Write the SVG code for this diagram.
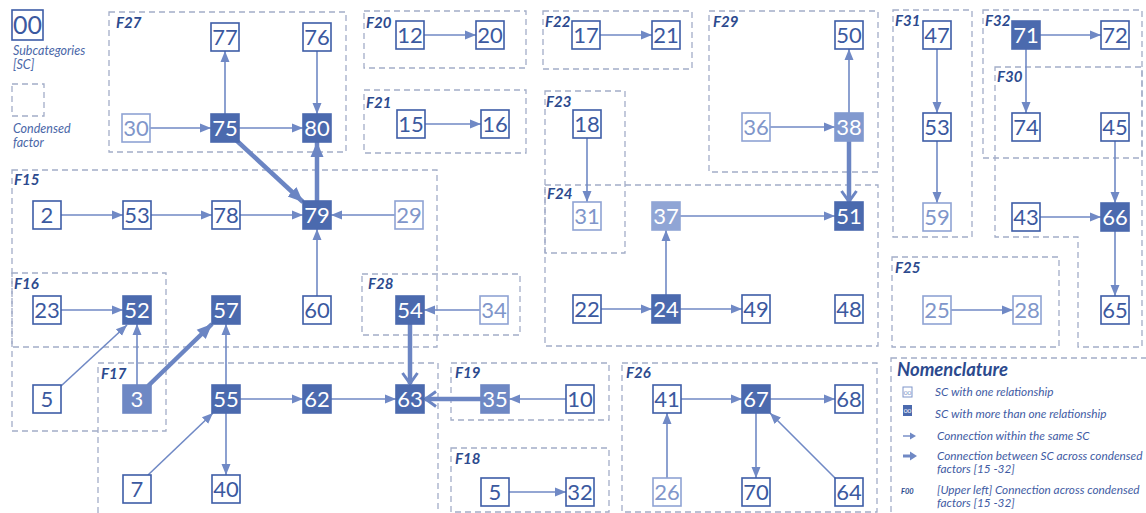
<svg xmlns="http://www.w3.org/2000/svg" width="1146" height="513" viewBox="0 0 1146 513">
  <style>
    .bg { fill: #ffffff; }
    .cf { fill: none; stroke: #a3adc8; stroke-width: 1.3; stroke-dasharray: 6 4; }
    .flab { font-family: Lato, "Liberation Sans", sans-serif; font-weight: bold; font-style: italic; font-size: 15px; fill: #2c4a8e; }
    .nb { fill: #ffffff; stroke: #3e5da7; stroke-width: 1.6; }
    .nt { font-family: Lato, "Liberation Sans", sans-serif; font-size: 22px; fill: #3b599f; text-anchor: middle; }
    .lt .nb { stroke: #8fa3d4; }
    .lt .nt { fill: #8096ca; }
    .dk .nb { fill: #4b6aae; stroke: #4b6aae; }
    .dk .nt { fill: #ffffff; }
    .md .nb { fill: #6e88c4; stroke: #6e88c4; }
    .md .nt { fill: #ffffff; }
    .ml .nb { fill: #8199cf; stroke: #8199cf; }
    .ml .nt { fill: #ffffff; }
    .mll .nb { fill: #90a5d5; stroke: #90a5d5; }
    .mll .nt { fill: #ffffff; }
    .c { fill: none; stroke: #7089c5; stroke-width: 1.6; marker-end: url(#tri); }
    .ct { fill: none; stroke: #6b85c3; stroke-width: 4.5; marker-end: url(#ttri); }
    .cv { fill: none; stroke: #6b85c3; stroke-width: 4.5; marker-end: url(#chev); }
    .leg { font-family: Lato, "Liberation Sans", sans-serif; font-style: italic; font-size: 12.5px; fill: #4a67a8; }
    .nom { font-family: Lato, "Liberation Sans", sans-serif; font-style: italic; font-size: 11.8px; fill: #3f5ca4; }
  </style>
  <defs>
    <marker id="tri" markerUnits="userSpaceOnUse" markerWidth="12" markerHeight="12" viewBox="0 0 12 12" refX="11" refY="6" orient="auto">
      <path d="M0,1.5 L11,6 L0,10.5 Z" fill="#7089c5"/>
    </marker>
    <marker id="ttri" markerUnits="userSpaceOnUse" markerWidth="16" markerHeight="16" viewBox="0 0 16 16" refX="15" refY="8" orient="auto">
      <path d="M0,1.5 L15,8 L0,14.5 Z" fill="#6b85c3"/>
    </marker>
    <marker id="chev" markerUnits="userSpaceOnUse" markerWidth="16" markerHeight="18" viewBox="0 0 16 18" refX="14" refY="9" orient="auto">
      <path d="M3,1.5 L13.5,9 L3,16.5" fill="none" stroke="#6b85c3" stroke-width="3"/>
    </marker>
  </defs>

  <rect class="bg" x="0" y="0" width="1146" height="513"/>

  <!-- key: subcategory box and condensed factor frame -->
  <g id="key">
    <rect x="12" y="10" width="31" height="30" fill="#ffffff" stroke="#3e5da7" stroke-width="1.6"/>
    <text x="27.5" y="34" font-family="Lato, 'Liberation Sans', sans-serif" font-size="25" fill="#3b599f" text-anchor="middle">00</text>
    <text class="leg" x="13" y="55">Subcategories</text>
    <text class="leg" x="13" y="69">[SC]</text>
    <rect class="cf" x="12" y="84" width="32" height="32"/>
    <text class="leg" x="13" y="133">Condensed</text>
    <text class="leg" x="13" y="147">factor</text>
  </g>

  <!-- condensed factor frames -->
  <g id="factors">
    <rect class="cf" x="109" y="12" width="237" height="140"/>
    <text class="flab" x="116" y="28">F27</text>
    <rect class="cf" x="364" y="11" width="162" height="57"/>
    <text class="flab" x="366" y="28">F20</text>
    <rect class="cf" x="364" y="90" width="162" height="63"/>
    <text class="flab" x="366" y="108">F21</text>
    <rect class="cf" x="543" y="11" width="149" height="58"/>
    <text class="flab" x="545" y="27">F22</text>
    <rect class="cf" x="545" y="91" width="80" height="162"/>
    <text class="flab" x="546" y="107">F23</text>
    <rect class="cf" x="709" y="11" width="169" height="161"/>
    <text class="flab" x="713" y="27">F29</text>
    <rect class="cf" x="893" y="10" width="79" height="227"/>
    <text class="flab" x="895" y="26">F31</text>
    <rect class="cf" x="983" y="10" width="159" height="148"/>
    <text class="flab" x="985" y="26">F32</text>
    <path class="cf" d="M995,67 H1142 V347 H1078 V237 H995 Z"/>
    <text class="flab" x="997" y="82">F30</text>
    <rect class="cf" x="12" y="170" width="425" height="177"/>
    <text class="flab" x="14" y="185">F15</text>
    <rect class="cf" x="545" y="185" width="333" height="161"/>
    <text class="flab" x="547" y="199">F24</text>
    <rect class="cf" x="12" y="273" width="154" height="158"/>
    <text class="flab" x="14" y="289">F16</text>
    <rect class="cf" x="362" y="274" width="158" height="61"/>
    <text class="flab" x="368" y="289">F28</text>
    <rect class="cf" x="892" y="257" width="167" height="90"/>
    <text class="flab" x="895" y="273">F25</text>
    <rect class="cf" x="98" y="363" width="340" height="155"/>
    <text class="flab" x="101" y="379">F17</text>
    <rect class="cf" x="451" y="363" width="158" height="57"/>
    <text class="flab" x="455" y="378">F19</text>
    <rect class="cf" x="451" y="448" width="158" height="64"/>
    <text class="flab" x="455" y="464">F18</text>
    <rect class="cf" x="622" y="363" width="255" height="149"/>
    <text class="flab" x="626" y="378">F26</text>
  </g>

  <!-- connectors -->
  <g id="connectors">
    <!-- F27 -->
    <line class="c" x1="225" y1="114" x2="225" y2="51"/>
    <line class="c" x1="317" y1="51" x2="317" y2="114"/>
    <line class="c" x1="150" y1="128" x2="211" y2="128"/>
    <line class="c" x1="239" y1="128" x2="303" y2="128"/>
    <line class="ct" x1="236" y1="140" x2="303" y2="202"/>
    <line class="ct" x1="317" y1="201" x2="317" y2="142"/>
    <!-- F20, F21, F22, F23 -->
    <line class="c" x1="424" y1="35" x2="476" y2="35"/>
    <line class="c" x1="425" y1="124" x2="481" y2="124"/>
    <line class="c" x1="600" y1="35" x2="652" y2="35"/>
    <line class="c" x1="587" y1="138" x2="587" y2="202"/>
    <!-- F29 -->
    <line class="c" x1="770" y1="127" x2="835" y2="127"/>
    <line class="c" x1="849" y1="113" x2="849" y2="49"/>
    <line class="cv" x1="849" y1="141" x2="849" y2="202"/>
    <!-- F24 -->
    <line class="c" x1="680" y1="216" x2="835" y2="216"/>
    <line class="c" x1="666" y1="295" x2="666" y2="230"/>
    <line class="c" x1="601" y1="309" x2="652" y2="309"/>
    <line class="c" x1="680" y1="309" x2="742" y2="309"/>
    <!-- F31 -->
    <line class="c" x1="937" y1="49" x2="937" y2="113"/>
    <line class="c" x1="937" y1="141" x2="937" y2="203"/>
    <!-- F32, F30 -->
    <line class="c" x1="1040" y1="35" x2="1101" y2="35"/>
    <line class="c" x1="1026" y1="49" x2="1026" y2="113"/>
    <line class="c" x1="1115" y1="141" x2="1115" y2="203"/>
    <line class="c" x1="1040" y1="217" x2="1101" y2="217"/>
    <line class="c" x1="1115" y1="231" x2="1115" y2="296"/>
    <!-- F25 -->
    <line class="c" x1="951" y1="310" x2="1013" y2="310"/>
    <!-- F15 -->
    <line class="c" x1="61" y1="215" x2="123" y2="215"/>
    <line class="c" x1="151" y1="215" x2="212" y2="215"/>
    <line class="c" x1="240" y1="215" x2="303" y2="215"/>
    <line class="c" x1="395" y1="215" x2="331" y2="215"/>
    <line class="c" x1="317" y1="296" x2="317" y2="229"/>
    <!-- F16 -->
    <line class="c" x1="61" y1="310" x2="123" y2="310"/>
    <line class="c" x1="61" y1="386" x2="127" y2="325"/>
    <line class="c" x1="137" y1="385" x2="137" y2="324"/>
    <line class="ct" x1="148" y1="386" x2="212" y2="324"/>
    <!-- F17 -->
    <line class="c" x1="226" y1="385" x2="226" y2="324"/>
    <line class="c" x1="148" y1="475" x2="213" y2="413"/>
    <line class="c" x1="226" y1="413" x2="226" y2="475"/>
    <line class="c" x1="239" y1="399" x2="303" y2="399"/>
    <line class="c" x1="331" y1="399" x2="396" y2="399"/>
    <!-- F28 -->
    <line class="c" x1="480" y1="310" x2="424" y2="310"/>
    <line class="cv" x1="410" y1="324" x2="410" y2="384"/>
    <!-- F19, F18 -->
    <line class="cv" x1="482" y1="399" x2="425" y2="399"/>
    <line class="c" x1="566" y1="399" x2="509" y2="399"/>
    <line class="c" x1="509" y1="492" x2="566" y2="492"/>
    <!-- F26 -->
    <line class="c" x1="681" y1="399" x2="742" y2="399"/>
    <line class="c" x1="770" y1="399" x2="835" y2="399"/>
    <line class="c" x1="667" y1="478" x2="667" y2="413"/>
    <line class="c" x1="756" y1="413" x2="756" y2="478"/>
    <line class="c" x1="836" y1="479" x2="770" y2="413"/>
  </g>

  <!-- subcategory nodes -->
  <g id="n77"><rect class="nb" x="211" y="23" width="28" height="28"/><text class="nt" x="225" y="45">77</text></g>
  <g id="n76"><rect class="nb" x="303" y="23" width="28" height="28"/><text class="nt" x="317" y="45">76</text></g>
  <g id="n30" class="lt"><rect class="nb" x="122" y="114" width="28" height="28"/><text class="nt" x="136" y="136">30</text></g>
  <g id="n75" class="dk"><rect class="nb" x="211" y="114" width="28" height="28"/><text class="nt" x="225" y="136">75</text></g>
  <g id="n80" class="dk"><rect class="nb" x="303" y="114" width="28" height="28"/><text class="nt" x="317" y="136">80</text></g>

  <g id="n12"><rect class="nb" x="396" y="21" width="28" height="28"/><text class="nt" x="410" y="43">12</text></g>
  <g id="n20"><rect class="nb" x="476" y="21" width="28" height="28"/><text class="nt" x="490" y="43">20</text></g>
  <g id="n15"><rect class="nb" x="397" y="110" width="28" height="28"/><text class="nt" x="411" y="132">15</text></g>
  <g id="n16"><rect class="nb" x="481" y="110" width="28" height="28"/><text class="nt" x="495" y="132">16</text></g>
  <g id="n17"><rect class="nb" x="572" y="21" width="28" height="28"/><text class="nt" x="586" y="43">17</text></g>
  <g id="n21"><rect class="nb" x="652" y="21" width="28" height="28"/><text class="nt" x="666" y="43">21</text></g>
  <g id="n18"><rect class="nb" x="573" y="110" width="28" height="28"/><text class="nt" x="587" y="132">18</text></g>
  <g id="n50"><rect class="nb" x="835" y="21" width="28" height="28"/><text class="nt" x="849" y="43">50</text></g>
  <g id="n36" class="lt"><rect class="nb" x="742" y="113" width="28" height="28"/><text class="nt" x="756" y="135">36</text></g>
  <g id="n38" class="ml"><rect class="nb" x="835" y="113" width="28" height="28"/><text class="nt" x="849" y="135">38</text></g>

  <g id="n31" class="lt"><rect class="nb" x="573" y="202" width="28" height="28"/><text class="nt" x="587" y="224">31</text></g>
  <g id="n37" class="mll"><rect class="nb" x="652" y="202" width="28" height="28"/><text class="nt" x="666" y="224">37</text></g>
  <g id="n51" class="dk"><rect class="nb" x="835" y="202" width="28" height="28"/><text class="nt" x="849" y="224">51</text></g>
  <g id="n22"><rect class="nb" x="573" y="295" width="28" height="28"/><text class="nt" x="587" y="317">22</text></g>
  <g id="n24" class="dk"><rect class="nb" x="652" y="295" width="28" height="28"/><text class="nt" x="666" y="317">24</text></g>
  <g id="n49"><rect class="nb" x="742" y="295" width="28" height="28"/><text class="nt" x="756" y="317">49</text></g>
  <g id="n48"><rect class="nb" x="835" y="295" width="28" height="28"/><text class="nt" x="849" y="317">48</text></g>

  <g id="n47"><rect class="nb" x="923" y="21" width="28" height="28"/><text class="nt" x="937" y="43">47</text></g>
  <g id="n53b"><rect class="nb" x="923" y="113" width="28" height="28"/><text class="nt" x="937" y="135">53</text></g>
  <g id="n59" class="lt"><rect class="nb" x="923" y="203" width="28" height="28"/><text class="nt" x="937" y="225">59</text></g>
  <g id="n71" class="dk"><rect class="nb" x="1012" y="21" width="28" height="28"/><text class="nt" x="1026" y="43">71</text></g>
  <g id="n72"><rect class="nb" x="1101" y="21" width="28" height="28"/><text class="nt" x="1115" y="43">72</text></g>
  <g id="n74"><rect class="nb" x="1012" y="113" width="28" height="28"/><text class="nt" x="1026" y="135">74</text></g>
  <g id="n45"><rect class="nb" x="1101" y="113" width="28" height="28"/><text class="nt" x="1115" y="135">45</text></g>
  <g id="n43"><rect class="nb" x="1012" y="203" width="28" height="28"/><text class="nt" x="1026" y="225">43</text></g>
  <g id="n66" class="dk"><rect class="nb" x="1101" y="203" width="28" height="28"/><text class="nt" x="1115" y="225">66</text></g>
  <g id="n65"><rect class="nb" x="1101" y="296" width="28" height="28"/><text class="nt" x="1115" y="318">65</text></g>
  <g id="n25" class="lt"><rect class="nb" x="923" y="296" width="28" height="28"/><text class="nt" x="937" y="318">25</text></g>
  <g id="n28" class="lt"><rect class="nb" x="1013" y="296" width="28" height="28"/><text class="nt" x="1027" y="318">28</text></g>

  <g id="n2"><rect class="nb" x="33" y="201" width="28" height="28"/><text class="nt" x="47" y="223">2</text></g>
  <g id="n53"><rect class="nb" x="123" y="201" width="28" height="28"/><text class="nt" x="137" y="223">53</text></g>
  <g id="n78"><rect class="nb" x="212" y="201" width="28" height="28"/><text class="nt" x="226" y="223">78</text></g>
  <g id="n79" class="dk"><rect class="nb" x="303" y="201" width="28" height="28"/><text class="nt" x="317" y="223">79</text></g>
  <g id="n29" class="lt"><rect class="nb" x="395" y="201" width="28" height="28"/><text class="nt" x="409" y="223">29</text></g>
  <g id="n60"><rect class="nb" x="303" y="296" width="28" height="28"/><text class="nt" x="317" y="318">60</text></g>
  <g id="n23"><rect class="nb" x="33" y="296" width="28" height="28"/><text class="nt" x="47" y="318">23</text></g>
  <g id="n52" class="dk"><rect class="nb" x="123" y="296" width="28" height="28"/><text class="nt" x="137" y="318">52</text></g>
  <g id="n57" class="dk"><rect class="nb" x="212" y="296" width="28" height="28"/><text class="nt" x="226" y="318">57</text></g>
  <g id="n54" class="dk"><rect class="nb" x="396" y="296" width="28" height="28"/><text class="nt" x="410" y="318">54</text></g>
  <g id="n34" class="lt"><rect class="nb" x="480" y="296" width="28" height="28"/><text class="nt" x="494" y="318">34</text></g>

  <g id="n5"><rect class="nb" x="33" y="385" width="28" height="28"/><text class="nt" x="47" y="407">5</text></g>
  <g id="n3" class="md"><rect class="nb" x="123" y="385" width="28" height="28"/><text class="nt" x="137" y="407">3</text></g>
  <g id="n55" class="dk"><rect class="nb" x="212" y="385" width="28" height="28"/><text class="nt" x="226" y="407">55</text></g>
  <g id="n62" class="dk"><rect class="nb" x="303" y="385" width="28" height="28"/><text class="nt" x="317" y="407">62</text></g>
  <g id="n63" class="dk"><rect class="nb" x="396" y="385" width="28" height="28"/><text class="nt" x="410" y="407">63</text></g>
  <g id="n7"><rect class="nb" x="123" y="475" width="28" height="28"/><text class="nt" x="137" y="497">7</text></g>
  <g id="n40"><rect class="nb" x="212" y="475" width="28" height="28"/><text class="nt" x="226" y="497">40</text></g>

  <g id="n35" class="md"><rect class="nb" x="481" y="385" width="28" height="28"/><text class="nt" x="495" y="407">35</text></g>
  <g id="n10"><rect class="nb" x="566" y="385" width="28" height="28"/><text class="nt" x="580" y="407">10</text></g>
  <g id="n5b"><rect class="nb" x="481" y="478" width="28" height="28"/><text class="nt" x="495" y="500">5</text></g>
  <g id="n32"><rect class="nb" x="566" y="478" width="28" height="28"/><text class="nt" x="580" y="500">32</text></g>

  <g id="n41"><rect class="nb" x="653" y="385" width="28" height="28"/><text class="nt" x="667" y="407">41</text></g>
  <g id="n67" class="dk"><rect class="nb" x="742" y="385" width="28" height="28"/><text class="nt" x="756" y="407">67</text></g>
  <g id="n68"><rect class="nb" x="835" y="385" width="28" height="28"/><text class="nt" x="849" y="407">68</text></g>
  <g id="n26" class="lt"><rect class="nb" x="653" y="478" width="28" height="28"/><text class="nt" x="667" y="500">26</text></g>
  <g id="n70"><rect class="nb" x="742" y="478" width="28" height="28"/><text class="nt" x="756" y="500">70</text></g>
  <g id="n64"><rect class="nb" x="835" y="478" width="28" height="28"/><text class="nt" x="849" y="500">64</text></g>

  <!-- nomenclature panel -->
  <g id="nomenclature">
    <rect class="cf" x="891" y="358" width="262" height="160"/>
    <text x="897" y="376" font-family="Lato, 'Liberation Sans', sans-serif" font-weight="bold" font-style="italic" font-size="18.5" fill="#2c4a8e">Nomenclature</text>
    <rect x="903" y="387" width="9" height="10" fill="#ffffff" stroke="#7f95ca" stroke-width="1"/>
    <text x="907.5" y="394.5" font-family="Lato, 'Liberation Sans', sans-serif" font-size="6.5" fill="#7f95ca" text-anchor="middle">00</text>
    <text class="nom" x="935" y="396">SC with one relationship</text>
    <rect x="903" y="405" width="9" height="11" fill="#4b6aae"/>
    <text x="907.5" y="413" font-family="Lato, 'Liberation Sans', sans-serif" font-size="6.5" fill="#ffffff" text-anchor="middle">00</text>
    <text class="nom" x="935" y="418">SC with more than one relationship</text>
    <line x1="903" y1="436" x2="912" y2="436" stroke="#7089c5" stroke-width="1.4"/>
    <path d="M910,432.5 L916,436 L910,439.5 Z" fill="#7089c5"/>
    <text class="nom" x="937" y="440">Connection within the same SC</text>
    <line x1="903" y1="456" x2="911" y2="456" stroke="#7089c5" stroke-width="3"/>
    <path d="M910,451.5 L917,456 L910,460.5 Z" fill="#7089c5"/>
    <text class="nom" x="937" y="460">Connection between SC across condensed</text>
    <text class="nom" x="937" y="473">factors [15 -32]</text>
    <text x="901" y="494" font-family="Lato, 'Liberation Sans', sans-serif" font-weight="bold" font-style="italic" font-size="7.5" fill="#2c4a8e">F00</text>
    <text class="nom" x="937" y="494">[Upper left] Connection across condensed</text>
    <text class="nom" x="937" y="507">factors [15 -32]</text>
  </g>
</svg>
